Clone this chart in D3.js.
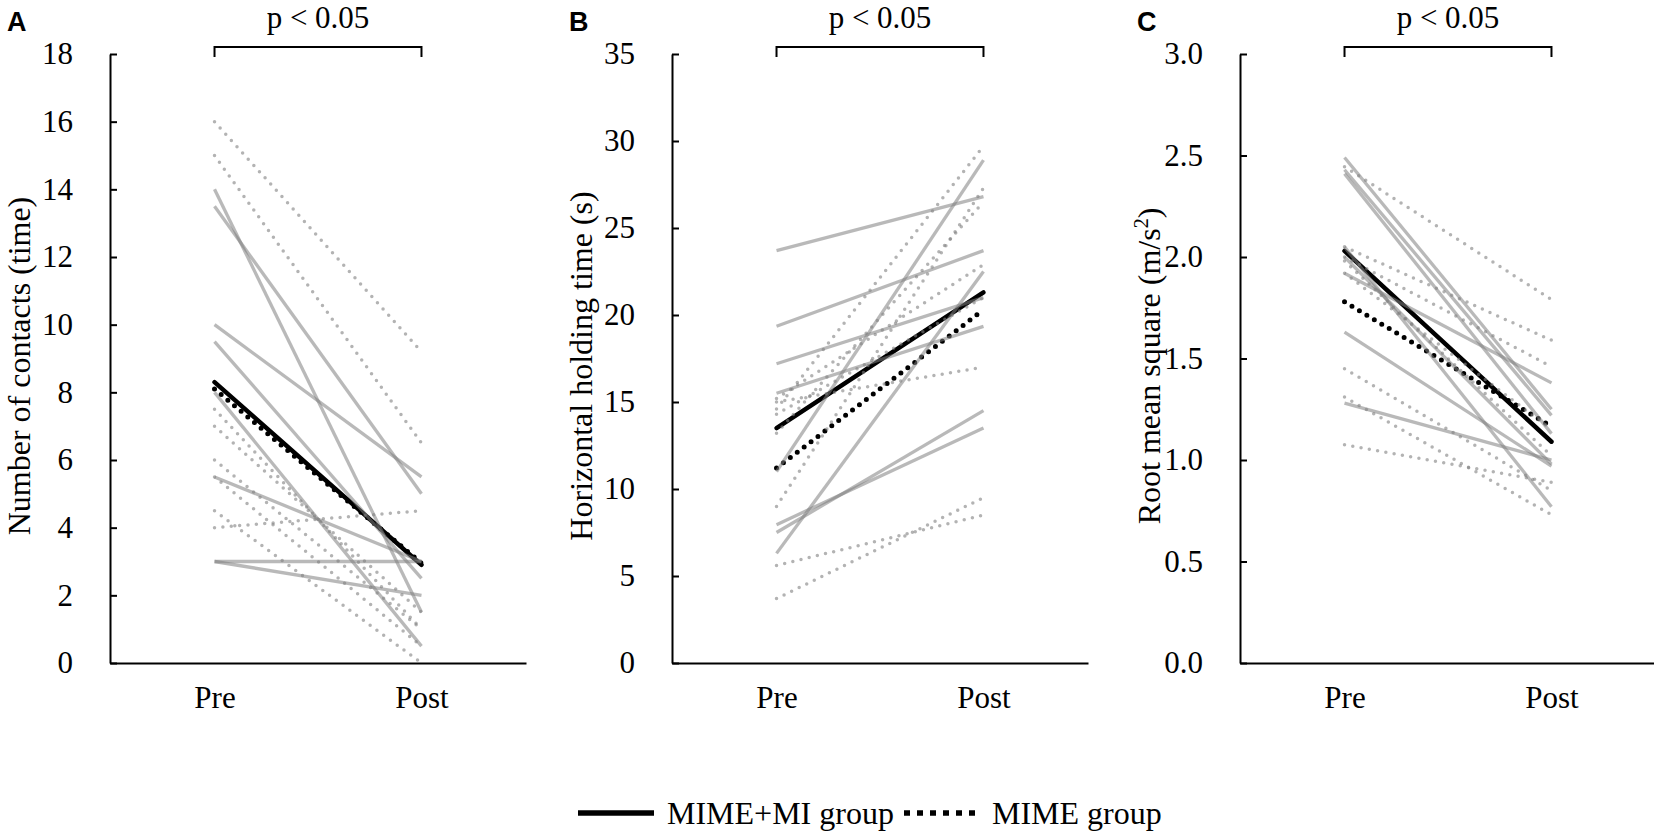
<!DOCTYPE html>
<html>
<head>
<meta charset="utf-8">
<script src="https://cdn.jsdelivr.net/npm/d3@7"></script>
<style>
  body { margin: 0; background: #fff; }
  svg text { font-family: "Liberation Serif", "Times New Roman", serif; fill: #000; }
  .panel-letter { font-family: "Liberation Sans", Arial, sans-serif; font-weight: bold; }
</style>
</head>
<body>
<div id="chart"></div>
<script>
// phases on the x axis
const phases = ["Pre", "Post"]

// A: number of contacts (time)
const contactsMimeMiPre  = [14, 13.5, 10, 9.5, 8, 5.5, 3, 3]
const contactsMimeMiPost = [1.5, 5, 5.5, 2.5, 0.5, 3, 3, 2]
const contactsMimePre    = [16, 15, 7.5, 7, 6, 5.5, 4.5, 4]
const contactsMimePost   = [9.2, 6.5, 1.0, 1.5, 1.0, 0.5, 0, 4.5]
const contactsMeanMimeMi = [8.3, 2.9]
const contactsMeanMime   = [8.1, 2.95]

// B: horizontal holding time (s)
const holdingMimeMiPre  = [23.7, 19.35, 17.2, 15.5, 11.0, 6.3, 7.95, 7.5]
const holdingMimeMiPost = [26.8, 23.7, 21.0, 19.35, 28.9, 22.5, 13.5, 14.5]
const holdingMimePre    = [15.2, 15.0, 14.6, 14.3, 13.2, 9.0, 5.6, 3.7]
const holdingMimePost   = [22.9, 17.0, 29.7, 21.0, 26.5, 27.3, 8.5, 9.5]
const holdingMeanMimeMi = [13.5, 21.3]
const holdingMeanMime   = [11.2, 20.3]

// C: root mean square (m/s2)
const rmsMimeMiPre  = [2.49, 2.43, 2.41, 2.05, 2.0, 1.92, 1.63, 1.28]
const rmsMimeMiPost = [1.25, 1.22, 1.13, 0.77, 0.98, 1.38, 0.97, 1.0]
const rmsMimePre    = [2.445, 2.05, 2.0, 1.98, 1.92, 1.45, 1.31, 1.075]
const rmsMimePost   = [1.79, 1.59, 1.46, 1.02, 1.15, 0.85, 0.73, 0.89]
const rmsMeanMimeMi = [2.03, 1.09]
const rmsMeanMime   = [1.78, 1.165]

const pValueText = "p < 0.05"
const legendLabels = ["MIME+MI group", "MIME group"]

const panels = [
  { letter: "A", title: ["Number of contacts (time)"], yMax: 18, yStep: 2, fmt: d3.format("d"),
    solidPre: contactsMimeMiPre, solidPost: contactsMimeMiPost,
    dotPre: contactsMimePre, dotPost: contactsMimePost,
    meanSolid: contactsMeanMimeMi, meanDot: contactsMeanMime },
  { letter: "B", title: ["Horizontal holding time (s)"], yMax: 35, yStep: 5, fmt: d3.format("d"),
    solidPre: holdingMimeMiPre, solidPost: holdingMimeMiPost,
    dotPre: holdingMimePre, dotPost: holdingMimePost,
    meanSolid: holdingMeanMimeMi, meanDot: holdingMeanMime },
  { letter: "C", title: ["Root mean square (m/s", "2", ")"], yMax: 3, yStep: 0.5, fmt: d3.format(".1f"),
    solidPre: rmsMimeMiPre, solidPost: rmsMimeMiPost,
    dotPre: rmsMimePre, dotPost: rmsMimePost,
    meanSolid: rmsMeanMimeMi, meanDot: rmsMeanMime }
]

const width = 1654
const height = 836
const plotTop = 54
const plotBottom = 663
const axisLen = 416
const panelLeft = [110, 672, 1240]
const fontSize = 31
const titleSize = 32

const svg = d3.select("#chart").append("svg")
  .attr("width", width)
  .attr("height", height)

const x = d3.scalePoint().domain(phases).range([0, axisLen]).padding(0.505)

panels.forEach((p, i) => {
  const g = svg.append("g").attr("transform", `translate(${panelLeft[i]},0)`)
  const y = d3.scaleLinear().domain([0, p.yMax]).range([plotBottom, plotTop])
  const ticks = d3.range(0, p.yMax + p.yStep / 2, p.yStep)

  // y axis, ticks pointing inward
  const yAxis = g.append("g")
    .call(d3.axisLeft(y).tickValues(ticks).tickFormat(p.fmt)
      .tickSizeInner(-7).tickSizeOuter(0).tickPadding(37))
  yAxis.selectAll("path, line").attr("stroke", "#000").attr("stroke-width", 2)
  yAxis.selectAll("text").style("font-size", fontSize + "px")
    .style("font-family", '"Liberation Serif", "Times New Roman", serif')

  // x axis, no ticks
  const xAxis = g.append("g").attr("transform", `translate(0,${plotBottom})`)
    .call(d3.axisBottom(x).tickSize(0).tickPadding(23))
  xAxis.select("path").attr("stroke", "#000").attr("stroke-width", 2)
  xAxis.selectAll("text").style("font-size", fontSize + "px")
    .style("font-family", '"Liberation Serif", "Times New Roman", serif')

  // axis title
  const title = g.append("text")
    .attr("transform", `translate(-80,366) rotate(-90)`)
    .attr("text-anchor", "middle")
    .style("font-size", titleSize + "px")
  title.append("tspan").text(p.title[0])
  if (p.title.length > 1) {
    title.append("tspan").text(p.title[1]).attr("dy", -12).style("font-size", "20px")
    title.append("tspan").text(p.title[2]).attr("dy", 12)
  }

  // panel letter
  svg.append("text").attr("class", "panel-letter")
    .attr("x", panelLeft[i] - 103).attr("y", 31)
    .style("font-size", "27px")
    .text(p.letter)

  // significance bracket
  const x0 = x(phases[0]), x1 = x(phases[1])
  g.append("path")
    .attr("d", `M${x0},57V47H${x1}V57`)
    .attr("fill", "none").attr("stroke", "#000").attr("stroke-width", 2)
  g.append("text")
    .attr("x", (x0 + x1) / 2).attr("y", 28)
    .attr("text-anchor", "middle")
    .style("font-size", fontSize + "px")
    .text(pValueText)

  const line = d3.line().x((d, j) => x(phases[j])).y(d => y(d))

  // group means
  g.append("path").datum(p.meanDot).attr("d", line)
    .attr("fill", "none").attr("stroke", "#000").attr("stroke-width", 5)
    .attr("stroke-linecap", "round").attr("stroke-dasharray", "0 8.7")
  g.append("path").datum(p.meanSolid).attr("d", line)
    .attr("fill", "none").attr("stroke", "#000").attr("stroke-width", 4.5)
    .attr("stroke-linecap", "round")

  // individual subjects
  const dotData = p.dotPre.map((v, j) => [v, p.dotPost[j]])
  const solidData = p.solidPre.map((v, j) => [v, p.solidPost[j]])

  g.append("g").selectAll("path").data(dotData).join("path")
    .attr("d", line)
    .attr("fill", "none").attr("stroke", "#808080").attr("stroke-opacity", 0.6)
    .attr("stroke-width", 3.5).attr("stroke-linecap", "round")
    .attr("stroke-dasharray", "0 8.4")

  g.append("g").selectAll("path").data(solidData).join("path")
    .attr("d", line)
    .attr("fill", "none").attr("stroke", "#808080").attr("stroke-opacity", 0.55)
    .attr("stroke-width", 3.3)
})

// legend
const legend = svg.append("g").attr("transform", "translate(0,813)")
legend.append("line").attr("x1", 578).attr("x2", 654)
  .attr("stroke", "#000").attr("stroke-width", 5.5)
legend.append("text").attr("x", 667).attr("dy", "0.35em")
  .style("font-size", "32px").text(legendLabels[0])
legend.append("line").attr("x1", 904).attr("x2", 979)
  .attr("stroke", "#000").attr("stroke-width", 5.5)
  .attr("stroke-dasharray", "6 7")
legend.append("text").attr("x", 992).attr("dy", "0.35em")
  .style("font-size", "32px").text(legendLabels[1])
</script>
</body>
</html>
